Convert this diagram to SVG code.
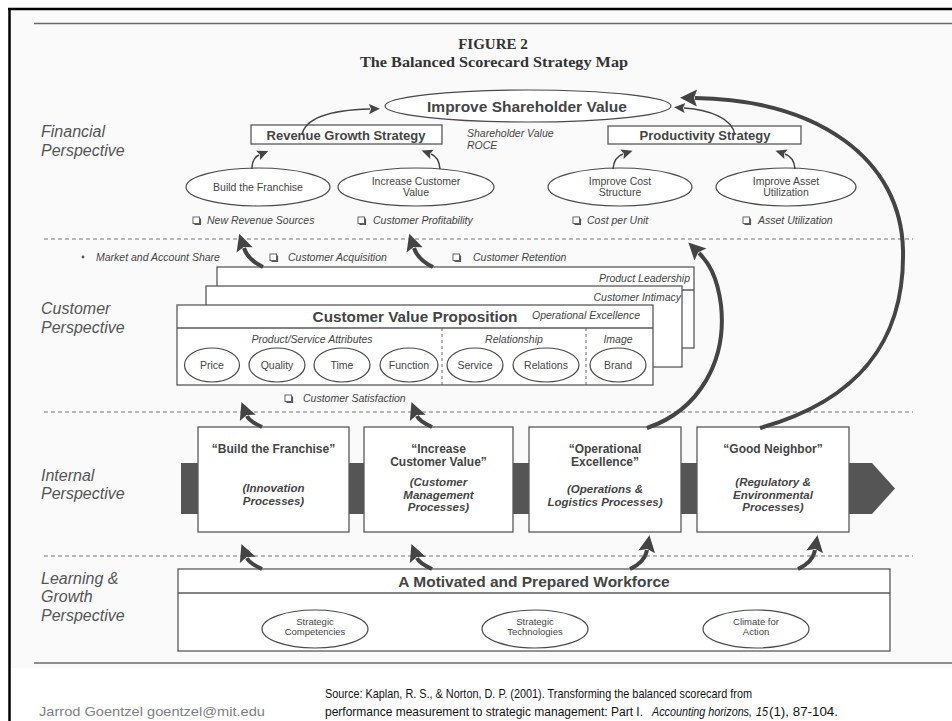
<svg xmlns="http://www.w3.org/2000/svg" width="952" height="721" viewBox="0 0 952 721">
  <style>
    .ln { fill: none; stroke: #5a5a5a; stroke-width: 1.3; }
    .box { fill: #ffffff; stroke: #5a5a5a; stroke-width: 1.3; }
    .ell { fill: #ffffff; stroke: #4a4a4a; stroke-width: 1.2; }
    .dash { stroke: #777; stroke-width: 1; stroke-dasharray: 4 3; }
    .vdash { stroke: #666; stroke-width: 1; stroke-dasharray: 3 3; }
    .persp { font-family: "Liberation Sans", Arial, sans-serif; font-style: italic; font-size: 16px; fill: #555; }
    .it { font-family: "Liberation Sans", Arial, sans-serif; font-style: italic; font-size: 10.5px; fill: #444; }
    .el { font-family: "Liberation Sans", Arial, sans-serif; font-size: 10.5px; fill: #444; text-anchor: middle; }
    .els { font-family: "Liberation Sans", Arial, sans-serif; font-size: 9.5px; fill: #444; text-anchor: middle; }
    .hd { font-family: "Liberation Sans", Arial, sans-serif; font-weight: bold; fill: #444; text-anchor: middle; }
    .pb { font-family: "Liberation Sans", Arial, sans-serif; font-weight: bold; font-size: 12px; fill: #444; text-anchor: middle; }
    .pbi { font-family: "Liberation Sans", Arial, sans-serif; font-weight: bold; font-style: italic; font-size: 11.5px; fill: #444; text-anchor: middle; }
    .big { fill: none; stroke: #444; stroke-width: 4; }
    .small { fill: none; stroke: #444; stroke-width: 1.5; }
    .ttl { font-family: "Liberation Serif", "Times New Roman", serif; font-weight: bold; font-size: 15px; fill: #333; text-anchor: middle; }
    .foot { font-family: "Liberation Sans", Arial, sans-serif; font-size: 13.5px; fill: #111; }
  </style>
  <defs>
    <marker id="headBig" markerUnits="userSpaceOnUse" markerWidth="20" markerHeight="20" refX="2" refY="8.5" orient="auto" overflow="visible">
      <path d="M0,0 L17,8.5 L0,17 L3,8.5 Z" fill="#444"/>
    </marker>
    <marker id="headSmall" markerUnits="userSpaceOnUse" markerWidth="14" markerHeight="12" refX="1" refY="5" orient="auto" overflow="visible">
      <path d="M0,0 L11,5 L0,10 L2,5 Z" fill="#444"/>
    </marker>
    <g id="chk">
      <rect x="0" y="-7" width="6.5" height="6.5" fill="#fff" stroke="#555" stroke-width="0.9"/>
      <path d="M1.5,0.4 H7.4 V-5.5" fill="none" stroke="#555" stroke-width="1.4"/>
    </g>
  </defs>

  <!-- page -->
  <rect x="0" y="0" width="952" height="721" fill="#ffffff"/>
  <rect x="10" y="11" width="942" height="657" fill="#fafafa"/>
  <line x1="8" y1="9" x2="952" y2="9" stroke="#000" stroke-width="2.5"/>
  <line x1="9.5" y1="8" x2="9.5" y2="721" stroke="#000" stroke-width="2.5"/>
  <line x1="34" y1="23.5" x2="952" y2="23.5" stroke="#6a6a6a" stroke-width="1.5"/>
  <line x1="34" y1="663" x2="952" y2="663" stroke="#6a6a6a" stroke-width="1.5"/>

  <!-- title -->
  <g id="title">
    <text class="ttl" x="493" y="49">FIGURE 2</text>
    <text class="ttl" x="494" y="67" textLength="268" lengthAdjust="spacingAndGlyphs">The Balanced Scorecard Strategy Map</text>
  </g>

  <!-- perspective separators -->
  <g id="separators">
    <line class="dash" x1="44" y1="239" x2="913" y2="239"/>
    <line class="dash" x1="44" y1="412" x2="913" y2="412"/>
    <line class="dash" x1="44" y1="556" x2="913" y2="556"/>
  </g>

  <!-- perspective labels -->
  <g id="perspectives">
    <text class="persp" x="41" y="137">Financial</text>
    <text class="persp" x="41" y="156">Perspective</text>
    <text class="persp" x="41" y="314">Customer</text>
    <text class="persp" x="41" y="333">Perspective</text>
    <text class="persp" x="41" y="481">Internal</text>
    <text class="persp" x="41" y="499">Perspective</text>
    <text class="persp" x="41" y="584">Learning &amp;</text>
    <text class="persp" x="41" y="602">Growth</text>
    <text class="persp" x="41" y="621">Perspective</text>
  </g>

  <!-- financial perspective -->
  <g id="improve-shareholder-value">
    <ellipse class="ell" cx="528" cy="106" rx="143" ry="16"/>
    <text class="hd" x="527" y="112" font-size="15.5">Improve Shareholder Value</text>
  </g>
  <g id="revenue-growth-strategy">
    <rect class="box" x="251" y="125" width="191" height="19"/>
    <text class="hd" x="346" y="139.5" font-size="13">Revenue Growth Strategy</text>
  </g>
  <g id="productivity-strategy">
    <rect class="box" x="608" y="126" width="193" height="18"/>
    <text class="hd" x="705" y="140" font-size="13">Productivity Strategy</text>
  </g>
  <g id="financial-measures">
    <text class="it" x="467" y="137" font-size="11">Shareholder Value</text>
    <text class="it" x="467" y="149" font-size="11">ROCE</text>
  </g>
  <g id="build-the-franchise">
    <ellipse class="ell" cx="258" cy="187" rx="72" ry="19"/>
    <text class="el" x="258" y="190.5">Build the Franchise</text>
  </g>
  <g id="increase-customer-value">
    <ellipse class="ell" cx="416" cy="187" rx="78" ry="19"/>
    <text class="el" x="416" y="185">Increase Customer</text>
    <text class="el" x="416" y="196">Value</text>
  </g>
  <g id="improve-cost-structure">
    <ellipse class="ell" cx="620" cy="187" rx="72" ry="19"/>
    <text class="el" x="620" y="185">Improve Cost</text>
    <text class="el" x="620" y="196">Structure</text>
  </g>
  <g id="improve-asset-utilization">
    <ellipse class="ell" cx="786" cy="187" rx="70" ry="19"/>
    <text class="el" x="786" y="185">Improve Asset</text>
    <text class="el" x="786" y="196">Utilization</text>
  </g>
  <g id="financial-metrics">
    <use href="#chk" x="193" y="224"/>
    <text class="it" x="207" y="224">New Revenue Sources</text>
    <use href="#chk" x="358" y="224"/>
    <text class="it" x="373" y="224">Customer Profitability</text>
    <use href="#chk" x="573" y="224"/>
    <text class="it" x="587" y="224">Cost per Unit</text>
    <use href="#chk" x="743" y="224"/>
    <text class="it" x="758" y="224">Asset Utilization</text>
  </g>

  <!-- customer perspective -->
  <g id="customer-metrics">
    <circle cx="83" cy="257" r="1.4" fill="#555"/>
    <text class="it" x="96" y="261">Market and Account Share</text>
    <use href="#chk" x="270" y="261"/>
    <text class="it" x="288" y="261">Customer Acquisition</text>
    <use href="#chk" x="453" y="261"/>
    <text class="it" x="473" y="261">Customer Retention</text>
  </g>
  <g id="product-leadership">
    <rect class="box" x="217" y="267" width="477" height="81"/>
    <line class="ln" x1="217" y1="290" x2="694" y2="290"/>
    <text class="it" x="690" y="282" text-anchor="end" font-size="11">Product Leadership</text>
  </g>
  <g id="customer-intimacy">
    <rect class="box" x="206" y="286" width="476" height="81"/>
    <text class="it" x="681" y="301" text-anchor="end" font-size="11">Customer Intimacy</text>
  </g>
  <g id="customer-value-proposition">
    <rect class="box" x="177" y="305" width="476" height="80"/>
    <line class="ln" x1="177" y1="328" x2="653" y2="328"/>
    <text class="hd" x="415" y="322" font-size="15.3">Customer Value Proposition</text>
    <text class="it" x="532" y="319" font-size="10.8">Operational Excellence</text>
    <line class="vdash" x1="442" y1="328" x2="442" y2="385"/>
    <line class="vdash" x1="586" y1="328" x2="586" y2="385"/>
    <text class="it" x="312" y="343" text-anchor="middle">Product/Service Attributes</text>
    <text class="it" x="514" y="343" text-anchor="middle">Relationship</text>
    <text class="it" x="618" y="343" text-anchor="middle">Image</text>
  </g>
  <g id="price">
    <ellipse class="ell" cx="212" cy="365" rx="27.5" ry="17"/>
    <text class="el" x="212" y="369">Price</text>
  </g>
  <g id="quality">
    <ellipse class="ell" cx="277" cy="365" rx="28" ry="17"/>
    <text class="el" x="277" y="369">Quality</text>
  </g>
  <g id="time">
    <ellipse class="ell" cx="342" cy="365" rx="28" ry="17"/>
    <text class="el" x="342" y="369">Time</text>
  </g>
  <g id="function">
    <ellipse class="ell" cx="409" cy="365" rx="29" ry="17"/>
    <text class="el" x="409" y="369">Function</text>
  </g>
  <g id="service">
    <ellipse class="ell" cx="475" cy="365" rx="28" ry="17"/>
    <text class="el" x="475" y="369">Service</text>
  </g>
  <g id="relations">
    <ellipse class="ell" cx="546" cy="365" rx="33" ry="17"/>
    <text class="el" x="546" y="369">Relations</text>
  </g>
  <g id="brand">
    <ellipse class="ell" cx="618" cy="365" rx="28" ry="17"/>
    <text class="el" x="618" y="369">Brand</text>
  </g>
  <g id="customer-satisfaction">
    <use href="#chk" x="285" y="402"/>
    <text class="it" x="303" y="402">Customer Satisfaction</text>
  </g>

  <!-- internal perspective: process band -->
  <g id="process-band">
    <polygon points="181,463 872,463 895,488.5 872,514 181,514" fill="#555"/>
  </g>
  <g id="build-the-franchise-process">
    <rect class="box" x="198" y="427" width="151" height="105"/>
    <text class="pb" x="273.5" y="453">“Build the Franchise”</text>
    <text class="pbi" x="273.5" y="492">(Innovation</text>
    <text class="pbi" x="273.5" y="505">Processes)</text>
  </g>
  <g id="increase-customer-value-process">
    <rect class="box" x="364" y="427" width="149" height="105"/>
    <text class="pb" x="438.5" y="453">“Increase</text>
    <text class="pb" x="438.5" y="466">Customer Value”</text>
    <text class="pbi" x="438.5" y="486">(Customer</text>
    <text class="pbi" x="438.5" y="498.5">Management</text>
    <text class="pbi" x="438.5" y="511">Processes)</text>
  </g>
  <g id="operational-excellence-process">
    <rect class="box" x="529" y="427" width="152" height="105"/>
    <text class="pb" x="605" y="453">“Operational</text>
    <text class="pb" x="605" y="466">Excellence”</text>
    <text class="pbi" x="605" y="493">(Operations &amp;</text>
    <text class="pbi" x="605" y="505.5">Logistics Processes)</text>
  </g>
  <g id="good-neighbor-process">
    <rect class="box" x="697" y="427" width="152" height="105"/>
    <text class="pb" x="773" y="453">“Good Neighbor”</text>
    <text class="pbi" x="773" y="486">(Regulatory &amp;</text>
    <text class="pbi" x="773" y="498.5">Environmental</text>
    <text class="pbi" x="773" y="511">Processes)</text>
  </g>

  <!-- learning & growth perspective -->
  <g id="motivated-workforce">
    <rect class="box" x="178" y="569" width="712" height="82"/>
    <line class="ln" x1="178" y1="593" x2="890" y2="593"/>
    <text class="hd" x="534" y="587" font-size="15.5">A Motivated and Prepared Workforce</text>
  </g>
  <g id="strategic-competencies">
    <ellipse class="ell" cx="315" cy="629" rx="53" ry="19"/>
    <text class="els" x="315" y="625">Strategic</text>
    <text class="els" x="315" y="635">Competencies</text>
  </g>
  <g id="strategic-technologies">
    <ellipse class="ell" cx="535" cy="629" rx="53" ry="19"/>
    <text class="els" x="535" y="625">Strategic</text>
    <text class="els" x="535" y="635">Technologies</text>
  </g>
  <g id="climate-for-action">
    <ellipse class="ell" cx="756" cy="629" rx="53" ry="19"/>
    <text class="els" x="756" y="625">Climate for</text>
    <text class="els" x="756" y="635">Action</text>
  </g>

  <!-- cause-and-effect links -->
  <g id="connectors">
    <path class="small" marker-end="url(#headSmall)" d="M252,169 Q252,158 259,155"/>
    <path class="small" marker-end="url(#headSmall)" d="M440,169 Q439,157 431,154"/>
    <path class="small" marker-end="url(#headSmall)" d="M613,169 Q614,157 623,154"/>
    <path class="small" marker-end="url(#headSmall)" d="M795,169 Q794,157 785,154"/>
    <path class="small" marker-end="url(#headSmall)" d="M302,135 C305,118 330,110 370,109"/>
    <path class="small" marker-end="url(#headSmall)" d="M735,135 C732,118 710,110 684,108"/>

    <path class="big" marker-end="url(#headBig)" d="M263,267 Q248,260 244,248"/>
    <path class="big" marker-end="url(#headBig)" d="M433,267 Q418,260 414,248"/>
    <path class="big" marker-end="url(#headBig)" d="M262,427 Q249,421 247,416"/>
    <path class="big" marker-end="url(#headBig)" d="M432,427 Q419,421 417,416"/>
    <path class="big" marker-end="url(#headBig)" d="M262,569 Q249,563 247,558"/>
    <path class="big" marker-end="url(#headBig)" d="M432,569 Q419,563 417,558"/>
    <path class="big" marker-end="url(#headBig)" d="M630,569 Q645,562 647,550"/>
    <path class="big" marker-end="url(#headBig)" d="M798,569 Q813,562 815,550"/>

    <path class="big" marker-end="url(#headBig)" d="M647,428 C700,410 727,360 721,305 C717,275 708,262 699,253"/>
    <path class="big" marker-end="url(#headBig)" d="M760,428 C860,400 905,340 903,250 C901,160 820,100 695,98"/>
  </g>

  <!-- footer -->
  <g id="footer">
    <text x="39" y="716" font-family="'Liberation Sans', Arial, sans-serif" font-size="13.5" fill="#808080" textLength="226" lengthAdjust="spacingAndGlyphs">Jarrod Goentzel goentzel@mit.edu</text>
    <text class="foot" x="325" y="698" textLength="427" lengthAdjust="spacingAndGlyphs">Source: Kaplan, R. S., &amp; Norton, D. P. (2001). Transforming the balanced scorecard from</text>
    <text class="foot" x="325" y="716" textLength="318" lengthAdjust="spacingAndGlyphs">performance measurement to strategic management: Part I.</text>
    <text class="foot" x="652" y="716" font-style="italic" textLength="100" lengthAdjust="spacingAndGlyphs">Accounting horizons,</text>
    <text class="foot" x="756" y="716" font-style="italic" textLength="12" lengthAdjust="spacingAndGlyphs">15</text>
    <text class="foot" x="769" y="716" textLength="69" lengthAdjust="spacingAndGlyphs">(1), 87-104.</text>
  </g>
</svg>
